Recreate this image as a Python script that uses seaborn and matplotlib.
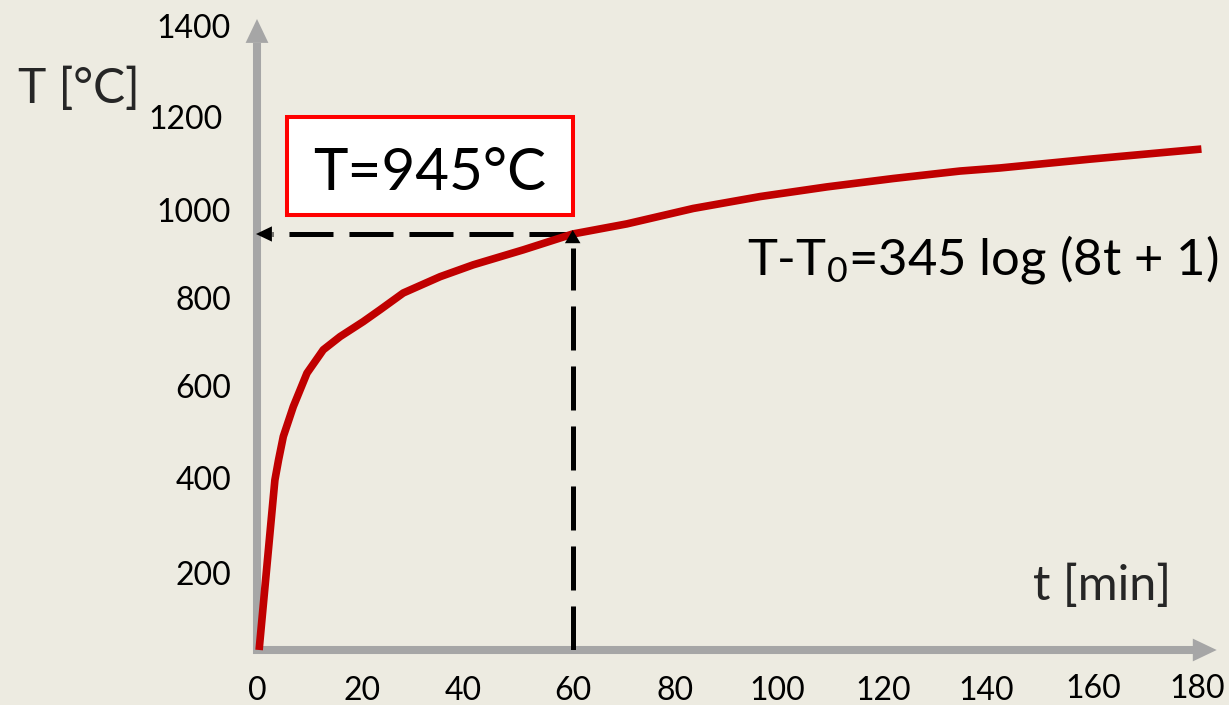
import numpy as np
import pandas as pd
import matplotlib
matplotlib.use("Agg")
import matplotlib.pyplot as plt
import matplotlib.transforms as mtransforms
from matplotlib.patches import Rectangle
import seaborn as sns

# Standard fire curve: furnace temperature against time
time_min = [0.4, 3.4, 4.1, 5.0, 6.9, 9.5, 12.6, 15.8, 20.2, 23.4, 27.8, 34.8,
            41.1, 50.6, 60.0, 70.3, 82.9, 95.6, 108.3, 120.9, 133.6, 141.2,
            158.3, 179.5]
temp_c = [0, 386, 432, 485, 553, 629, 682, 712, 746, 773, 811, 848,
          875, 909, 945, 968, 1003, 1030, 1052, 1071, 1088, 1095,
          1115, 1138]

# Reading taken off the curve
read_t = 60
read_T = 945

x_ticks = [0, 20, 40, 60, 80, 100, 120, 140, 160, 180]
y_ticks = [200, 400, 600, 800, 1000, 1200, 1400]

box_text = "T=945°C"
formula_text = r"T-T$_{0}$=345 log (8t + 1)"
x_label = "t [min]"
y_label = "T [°C]"

BG = "#EDEBE1"
AXIS_GREY = "#A6A6A6"
CURVE_RED = "#C00000"

sns.set_theme(style="white")
plt.rcParams["font.family"] = ["Lato", "DejaVu Sans"]
plt.rcParams["mathtext.fontset"] = "custom"
plt.rcParams["mathtext.rm"] = "Lato"
plt.rcParams["mathtext.default"] = "regular"

W, H = 1229, 705
fig = plt.figure(figsize=(W / 100, H / 100), dpi=100)
fig.patch.set_facecolor(BG)

# axes box: origin at pixel (257, 650), arrow tips at x=1217 and y=19
ax = fig.add_axes([257 / W, (H - 650) / H, (1216.7 - 257) / W, (650 - 19) / H])
ax.set_facecolor(BG)
ax.set_xlim(0, 182.4)
ax.set_ylim(0, 1433.4)
for s in ax.spines.values():
    s.set_visible(False)
ax.grid(False)

px_x = 182.4 / (1216.7 - 257)   # minutes per pixel
px_y = 1433.4 / (650 - 19)      # degrees per pixel

# grey axis arrows
ax.plot([-4 * px_x, 178.0], [0, 0], color=AXIS_GREY, lw=5.8,
        solid_capstyle="butt", clip_on=False, zorder=2)
ax.plot([0, 0], [-4 * px_y, 1380], color=AXIS_GREY, lw=5.8,
        solid_capstyle="butt", clip_on=False, zorder=2)
head_grey = dict(arrowstyle="-|>,head_length=0.86,head_width=0.41",
                 mutation_scale=20, lw=0, color=AXIS_GREY,
                 shrinkA=0, shrinkB=0)
ax.annotate("", xy=(182.4, 0), xytext=(170, 0), arrowprops=head_grey,
            annotation_clip=False, zorder=2)
ax.annotate("", xy=(0, 1433.4), xytext=(0, 1350), arrowprops=head_grey,
            annotation_clip=False, zorder=2)

# temperature curve
df = pd.DataFrame({"t": time_min, "T": temp_c})
sns.lineplot(data=df, x="t", y="T", ax=ax, color=CURVE_RED, lw=5.5,
             solid_capstyle="butt", solid_joinstyle="round", zorder=4,
             clip_on=False)

# dashed reading lines with arrow heads
dash = (0, (31.7 / 3.6, 11.5 / 3.6))
ax.plot([read_t, 15 * px_x], [read_T, read_T], color="black", lw=3.6,
        linestyle=dash, zorder=3)
ax.plot([read_t, read_t], [0, read_T - 14 * px_y], color="black", lw=3.6,
        linestyle=dash, zorder=3)
ax.annotate("", xy=(-0.2, read_T), xytext=(6, read_T),
            arrowprops=dict(arrowstyle="-|>,head_length=1.15,head_width=0.55",
                            mutation_scale=10, lw=0, color="black",
                            shrinkA=0, shrinkB=0),
            annotation_clip=False, zorder=5)
ax.annotate("", xy=(read_t, read_T + 4 * px_y), xytext=(read_t, read_T - 40),
            arrowprops=dict(arrowstyle="-|>,head_length=0.95,head_width=0.56",
                            mutation_scale=10, lw=0, color="black",
                            shrinkA=0, shrinkB=0),
            annotation_clip=False, zorder=5)

# boxed reading
ax.add_patch(Rectangle((5.7, 988.2), 54.35, 222.6, facecolor="white",
                       edgecolor="#FF0000", lw=2.9, zorder=3))
ax.text(32.9, 1045, box_text, ha="center", va="baseline", fontsize=42,
        color="black", zorder=4)

# curve equation
ax.text(93.1, 852, formula_text, ha="left", va="baseline", fontsize=36.5,
        color="black", zorder=4)

# ticks
ax.set_xticks(x_ticks)
ax.set_xticklabels([str(v) for v in x_ticks])
ax.set_yticks(y_ticks)
ax.set_yticklabels([str(v) for v in y_ticks])
ax.tick_params(axis="x", length=0, pad=19.0, labelsize=23, colors="black")
ax.tick_params(axis="y", length=0, pad=18.7, labelsize=23, colors="black")

# axis titles
ax.set_xlabel(x_label, fontsize=35, ha="left", va="baseline")
ax.xaxis.set_label_coords(1033 / W, 1 - 600 / H, transform=fig.transFigure)
ax.set_ylabel(y_label, fontsize=34.5, rotation=0, ha="left", va="baseline")
ax.yaxis.set_label_coords(18 / W, 1 - 103 / H, transform=fig.transFigure)

fig.canvas.draw()

# small hand-set nudges of individual tick labels (pixels, +x right, +y up)
x_nudge = {40: (-4, 0), 80: (-3, 0), 100: (-6, 0), 120: (-5, 0),
           140: (-7, 0), 160: (-6, 2), 180: (-7, 2)}
y_nudge = {200: (0, -11), 400: (0, -4), 1200: (-8, 5), 1400: (0, 8)}
for tick, lab in zip(ax.get_xticks(), ax.get_xticklabels()):
    dx, dy = x_nudge.get(int(tick), (0, 0))
    lab.set_transform(lab.get_transform() +
                      mtransforms.ScaledTranslation(dx / 100, dy / 100,
                                                    fig.dpi_scale_trans))
for tick, lab in zip(ax.get_yticks(), ax.get_yticklabels()):
    dx, dy = y_nudge.get(int(tick), (0, 0))
    lab.set_transform(lab.get_transform() +
                      mtransforms.ScaledTranslation(dx / 100, dy / 100,
                                                    fig.dpi_scale_trans))

fig.savefig("out.png", dpi=100, facecolor=BG)
